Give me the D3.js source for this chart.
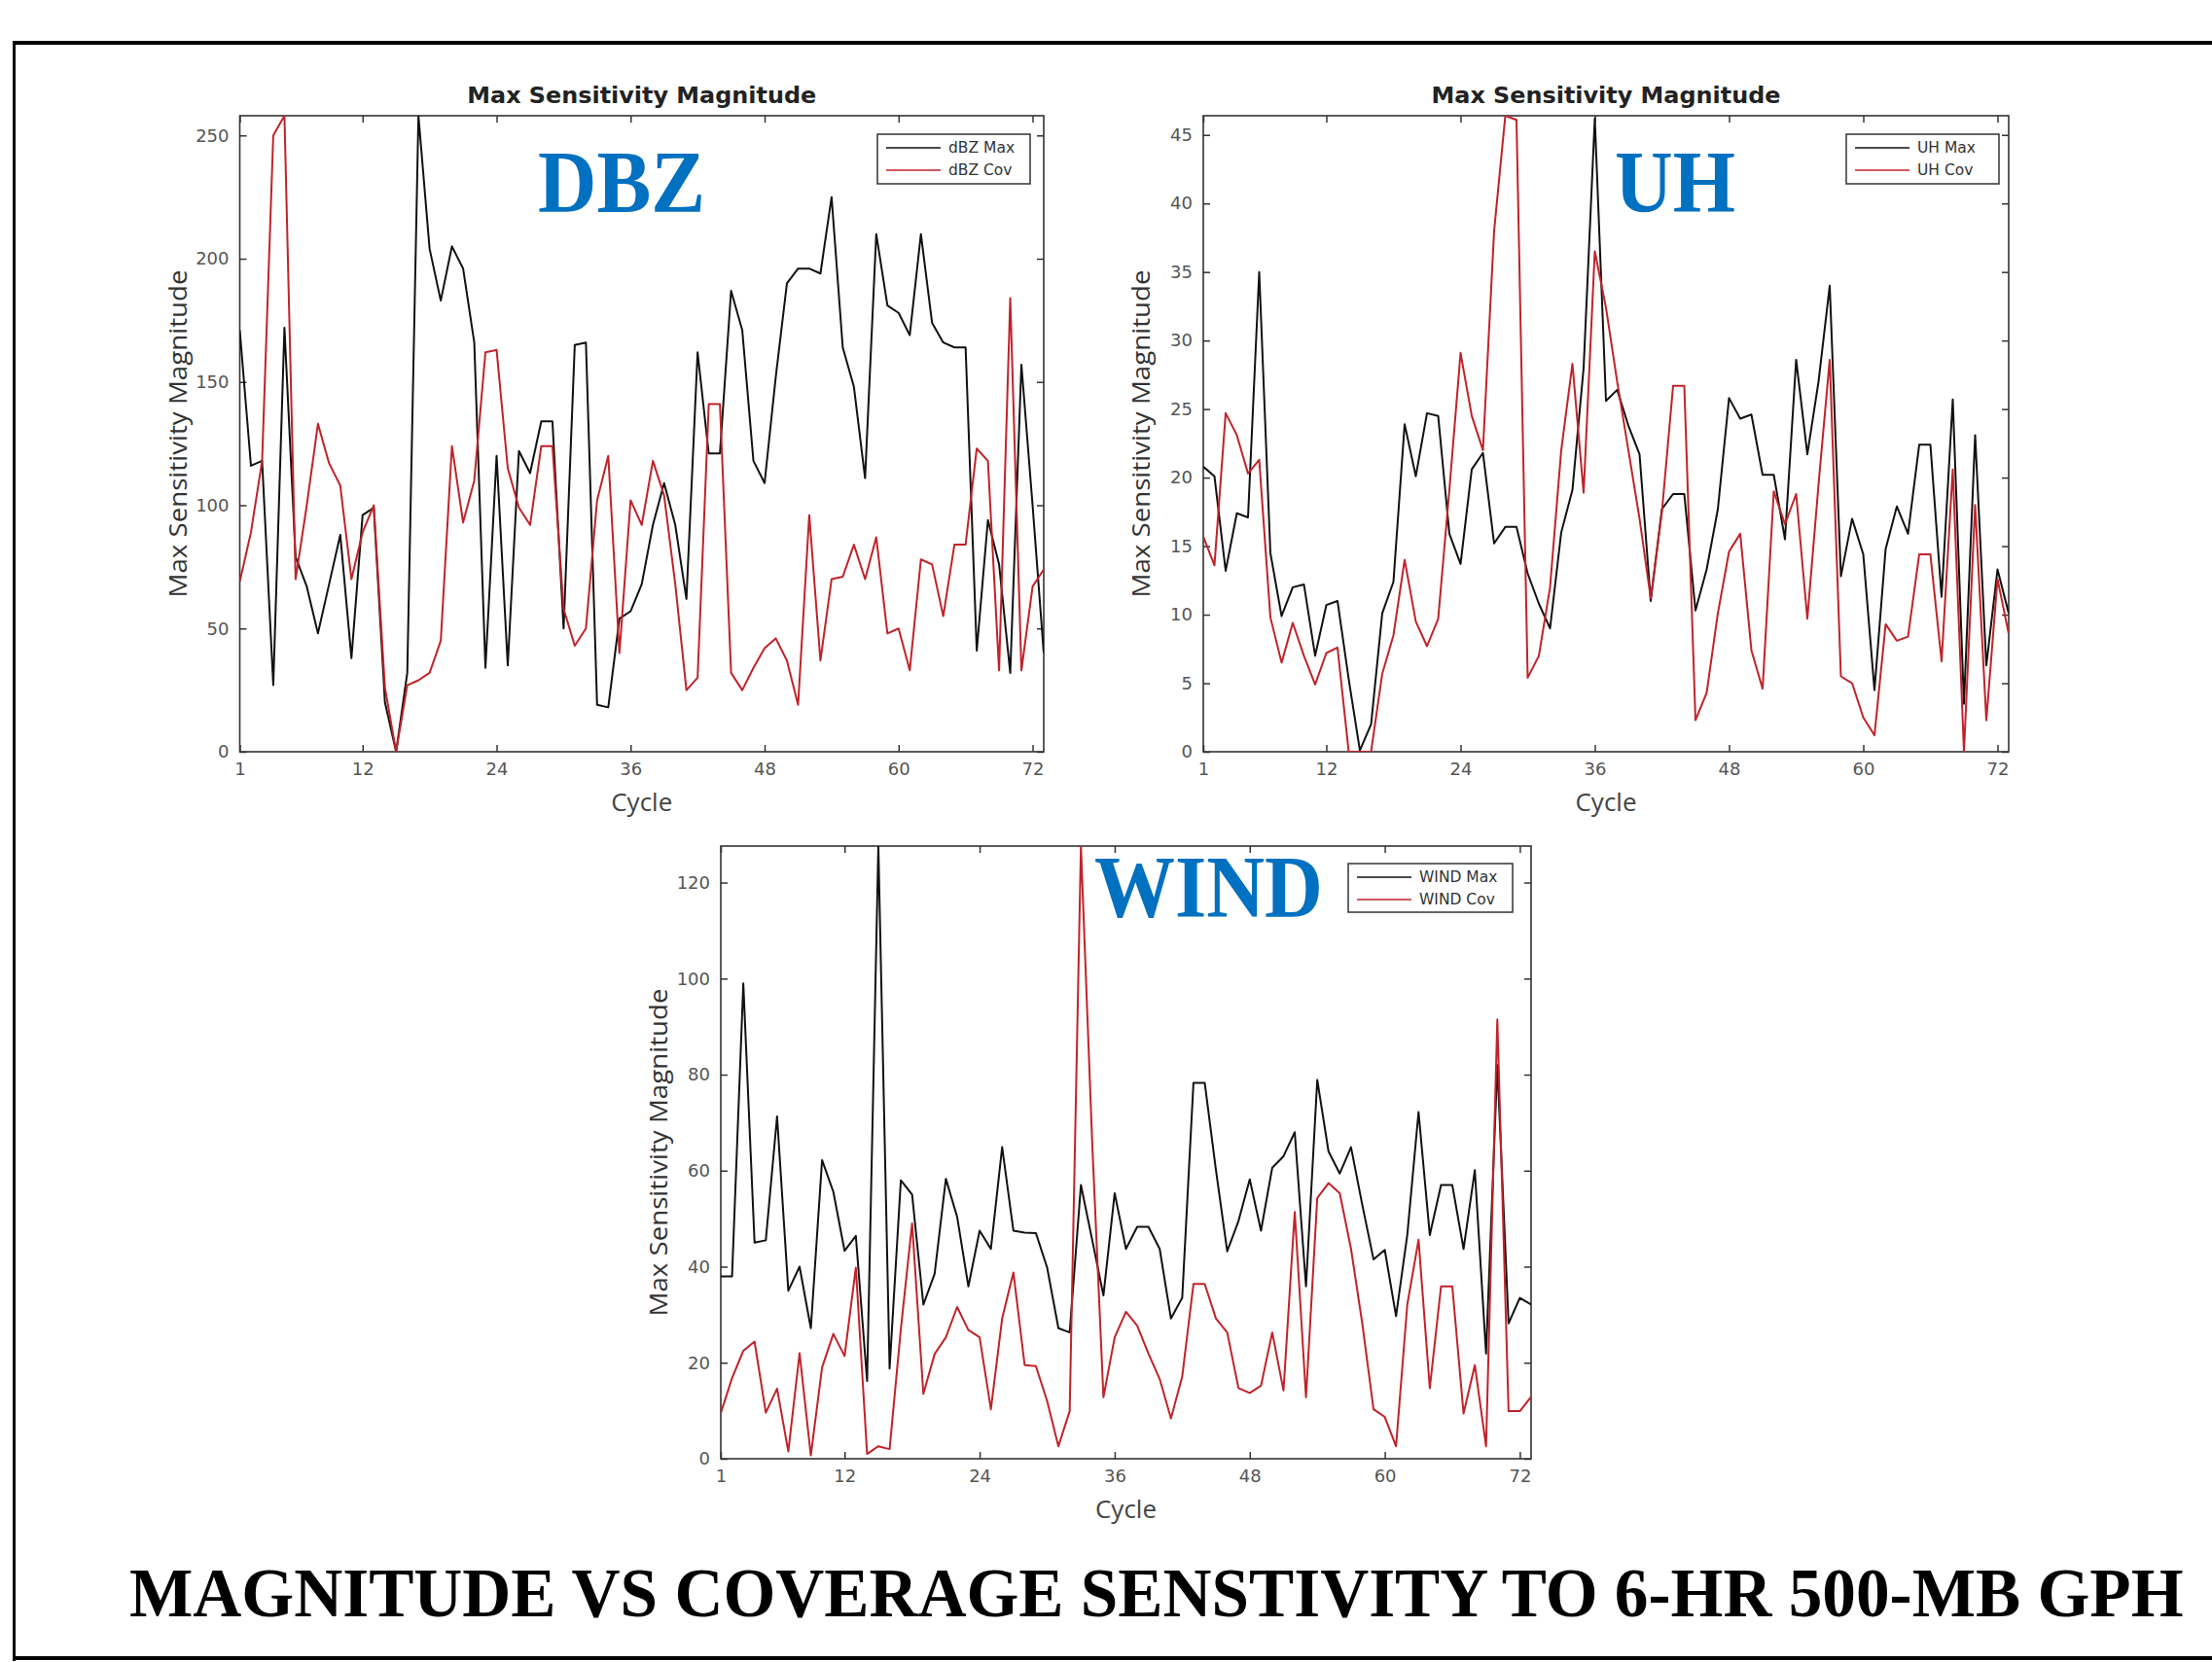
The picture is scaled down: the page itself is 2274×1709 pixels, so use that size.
<!DOCTYPE html>
<html>
<head>
<meta charset="utf-8">
<script src="https://cdn.jsdelivr.net/npm/d3@7/dist/d3.min.js"></script>
<style>
  body { margin: 0; background: #ffffff; }
  svg { display: block; }
</style>
</head>
<body>
<svg id="figure" width="2274" height="1709"></svg>
<script>
// Cycle numbers (x values) and x tick labels
const cycles = d3.range(1, 74);
const xTicks = [1, 12, 24, 36, 48, 60, 72];

// dBZ series
const dbzMax = [171, 116, 118, 27, 172, 79, 67, 48, 68, 88, 38, 96, 99, 20, 0, 32, 258, 204, 183, 205,
  196, 166, 34, 120, 35, 122, 113, 134, 134, 50, 165, 166, 19, 18, 54, 57, 68, 92, 109, 92,
  62, 162, 121, 121, 187, 171, 118, 109, 152, 190, 196, 196, 194, 225, 164, 148, 111, 210, 181, 178,
  169, 210, 174, 166, 164, 164, 41, 94, 76, 32, 157, 100, 40];
const dbzCov = [69, 89, 118, 250, 258, 70, 100, 133, 117, 108, 70, 89, 100, 26, 0, 27, 29, 32, 45, 124,
  93, 110, 162, 163, 115, 99, 92, 124, 124, 58, 43, 50, 102, 120, 40, 102, 92, 118, 104, 68,
  25, 30, 141, 141, 32, 25, 34, 42, 46, 37, 19, 96, 37, 70, 71, 84, 70, 87, 48, 50,
  33, 78, 76, 55, 84, 84, 123, 118, 33, 184, 33, 67, 74];
const dbzTicks = [0, 50, 100, 150, 200, 250];

// UH series
const uhMax = [20.8, 20.1, 13.2, 17.4, 17.1, 35.0, 14.5, 9.9, 12.0, 12.2, 7.0, 10.7, 11.0, 5.3, 0.1, 2.0, 10.1, 12.4, 23.9, 20.1,
  24.7, 24.5, 15.9, 13.7, 20.6, 21.8, 15.2, 16.4, 16.4, 13.0, 10.8, 9.0, 16.0, 19.1, 28.0, 46.2, 25.6, 26.4, 23.8, 21.7,
  11.0, 17.7, 18.8, 18.8, 10.3, 13.3, 17.7, 25.8, 24.3, 24.6, 20.2, 20.2, 15.5, 28.6, 21.7, 27.0, 34.0, 12.8, 17.0, 14.4,
  4.5, 14.8, 17.9, 15.9, 22.4, 22.4, 11.3, 25.7, 3.5, 23.1, 6.3, 13.3, 10.1];
const uhCov = [15.7, 13.6, 24.7, 23.1, 20.3, 21.3, 9.8, 6.5, 9.4, 7.0, 4.9, 7.2, 7.6, 0, 0, 0, 5.7, 8.5, 14.0, 9.5,
  7.7, 9.7, 19.1, 29.1, 24.5, 22.0, 38.0, 46.4, 46.1, 5.4, 7.0, 12.0, 22.0, 28.3, 18.9, 36.5, 32.4, 27.0, 22.0, 17.0,
  11.2, 17.5, 26.7, 26.7, 2.3, 4.3, 10.1, 14.6, 15.9, 7.4, 4.6, 19.0, 16.6, 18.8, 9.7, 19.5, 28.6, 5.5, 5.0, 2.5,
  1.2, 9.3, 8.1, 8.4, 14.4, 14.4, 6.6, 20.6, 0, 18.0, 2.3, 12.6, 8.6];
const uhTicks = [0, 5, 10, 15, 20, 25, 30, 35, 40, 45];

// WIND series
const windMax = [38, 38, 99, 45, 45.5, 71.3, 35, 40, 27.2, 62.2, 55.6, 43.3, 46.4, 16.2, 127.6, 18.8, 58, 55, 32.1, 38.5,
  58.3, 50.4, 35.9, 47.5, 43.7, 64.9, 47.5, 47.1, 47, 39.8, 27.2, 26.3, 57, 45.6, 34.0, 55.3, 43.7, 48.3, 48.3, 43.7,
  29.2, 33.5, 78.3, 78.3, 60.1, 43.2, 49.5, 58.2, 47.5, 60.6, 63.0, 68.0, 35.9, 78.9, 64.0, 59.4, 64.9, 52.9, 41.5, 43.5,
  29.7, 46.6, 72.2, 46.6, 57.0, 57.0, 43.7, 60.1, 21.9, 82, 28.2, 33.5, 32.1];
const windCov = [9.5, 16.8, 22.5, 24.4, 9.6, 14.6, 1.5, 22, 0.7, 19, 26, 21.4, 39.8, 1.0, 2.6, 2.0, 27, 49, 13.5, 21.8,
  25.3, 31.6, 26.8, 25.3, 10.3, 29.2, 38.8, 19.5, 19.3, 12, 2.6, 9.9, 127.6, 66, 12.8, 25.3, 30.6, 27.7, 21.9, 16.6,
  8.4, 17.1, 36.4, 36.4, 29.2, 26.3, 14.7, 13.7, 15.2, 26.3, 14.2, 51.4, 12.8, 54.3, 57.4, 55.3, 43.7, 28.2, 10.3, 8.7,
  2.6, 32.1, 45.6, 14.7, 35.9, 35.9, 9.4, 19.5, 2.6, 91.5, 9.9, 9.9, 12.9];
const windTicks = [0, 20, 40, 60, 80, 100, 120];

// Text
const panelTitle = "Max Sensitivity Magnitude";
const yLabel = "Max Sensitivity Magnitude";
const xLabel = "Cycle";
const figureTitle = "MAGNITUDE VS COVERAGE SENSTIVITY TO 6-HR 500-MB GPH";

const svg = d3.select("#figure");

// Outer frame (open on the right, like the source slide)
svg.append("rect").attr("x", 13).attr("y", 42).attr("width", 2274).attr("height", 4).attr("fill", "#000");
svg.append("rect").attr("x", 13).attr("y", 42).attr("width", 3).attr("height", 1666).attr("fill", "#000");
svg.append("rect").attr("x", 13).attr("y", 1703).attr("width", 2274).attr("height", 4).attr("fill", "#000");

// Panel layouts
const panels = [
  { key: "dbz", left: 246.5, top: 119, width: 826.5, height: 654, yMax: 258, yTicks: dbzTicks,
    maxVals: dbzMax, covVals: dbzCov, names: ["dBZ Max", "dBZ Cov"], showTitle: true,
    tag: "DBZ", tagX: 553, tagY: 218, tagLen: 172,
    legend: { x: 902, y: 138, w: 157, h: 51 } },
  { key: "uh", left: 1237, top: 119, width: 828, height: 654, yMax: 46.4, yTicks: uhTicks,
    maxVals: uhMax, covVals: uhCov, names: ["UH Max", "UH Cov"], showTitle: true,
    tag: "UH", tagX: 1660, tagY: 218, tagLen: 124,
    legend: { x: 1898, y: 138, w: 157, h: 51 } },
  { key: "wind", left: 741, top: 870, width: 833, height: 630, yMax: 127.6, yTicks: windTicks,
    maxVals: windMax, covVals: windCov, names: ["WIND Max", "WIND Cov"], showTitle: false,
    tag: "WIND", tagX: 1125, tagY: 943, tagLen: 235,
    legend: { x: 1386, y: 888, w: 169, h: 50 } }
];

panels.forEach(createPanel);

// Figure caption at the bottom, squeezed to the reference width with a scale
const caption = svg.append("text")
    .attr("x", 0)
    .attr("y", 0)
    .attr("font-family", "'Liberation Serif', 'Times New Roman', serif")
    .attr("font-weight", "bold")
    .attr("font-size", 72)
    .attr("fill", "#000")
    .text(figureTitle);
const capLen = caption.node().getComputedTextLength();
caption.attr("transform", "translate(133,1662) scale(" + (2112 / capLen) + ",1)");

function createPanel(p) {
    const g = svg.append("g").attr("transform", "translate(" + p.left + "," + p.top + ")");

    const x = d3.scaleLinear().domain([1, 73]).range([0, p.width]);
    const y = d3.scaleLinear().domain([0, p.yMax]).range([p.height, 0]);

    const tickFont = "'DejaVu Sans', Verdana, sans-serif";

    // Axes with inward ticks on all four sides
    const axes = [
        { ax: d3.axisBottom(x).tickValues(xTicks).tickPadding(11), t: "translate(0," + p.height + ")" },
        { ax: d3.axisTop(x).tickValues(xTicks).tickFormat(""), t: "translate(0,0)" },
        { ax: d3.axisLeft(y).tickValues(p.yTicks).tickPadding(11), t: "translate(0,0)" },
        { ax: d3.axisRight(y).tickValues(p.yTicks).tickFormat(""), t: "translate(" + p.width + ",0)" }
    ];
    axes.forEach(a => {
        const ag = g.append("g")
            .attr("transform", a.t)
            .call(a.ax.tickSizeInner(-7).tickSizeOuter(0));
        ag.select(".domain").remove();
        ag.selectAll(".tick line").attr("stroke", "#333").attr("stroke-width", 1.5);
        ag.selectAll(".tick text")
            .attr("font-family", tickFont)
            .attr("font-size", 18)
            .attr("fill", "#555");
    });

    // Plot box
    g.append("rect")
        .attr("width", p.width)
        .attr("height", p.height)
        .attr("fill", "none")
        .attr("stroke", "#333")
        .attr("stroke-width", 1.6);

    // Lines, clipped to the axes box
    g.append("clipPath").attr("id", "clip-" + p.key)
        .append("rect").attr("width", p.width).attr("height", p.height);

    const line = d3.line()
        .x((d, i) => x(cycles[i]))
        .y(d => y(d));

    g.append("path")
        .datum(p.maxVals)
        .attr("clip-path", "url(#clip-" + p.key + ")")
        .attr("fill", "none")
        .attr("stroke", "#111")
        .attr("stroke-width", 2)
        .attr("stroke-linejoin", "round")
        .attr("d", line);

    g.append("path")
        .datum(p.covVals)
        .attr("clip-path", "url(#clip-" + p.key + ")")
        .attr("fill", "none")
        .attr("stroke", "#c0232a")
        .attr("stroke-width", 2)
        .attr("stroke-linejoin", "round")
        .attr("d", line);

    // Title
    if (p.showTitle) {
        g.append("text")
            .attr("x", p.width / 2)
            .attr("y", -13)
            .attr("text-anchor", "middle")
            .attr("font-family", tickFont)
            .attr("font-weight", "bold")
            .attr("font-size", 23)
            .attr("textLength", 359)
            .attr("lengthAdjust", "spacingAndGlyphs")
            .attr("fill", "#222")
            .text(panelTitle);
    }

    // Axis labels
    g.append("text")
        .attr("x", p.width / 2)
        .attr("y", p.height + 61)
        .attr("text-anchor", "middle")
        .attr("font-family", "'Open Sans', sans-serif")
        .attr("font-size", 26)
        .attr("fill", "#444")
        .text(xLabel);

    g.append("text")
        .attr("transform", "rotate(-90)")
        .attr("x", -p.height / 2)
        .attr("y", -55)
        .attr("text-anchor", "middle")
        .attr("font-family", "'Open Sans', sans-serif")
        .attr("font-size", 26)
        .attr("textLength", 337)
        .attr("lengthAdjust", "spacingAndGlyphs")
        .attr("fill", "#333")
        .text(yLabel);

    // Legend
    const lg = svg.append("g").attr("transform", "translate(" + p.legend.x + "," + p.legend.y + ")");
    lg.append("rect")
        .attr("width", p.legend.w)
        .attr("height", p.legend.h)
        .attr("fill", "#fff")
        .attr("stroke", "#333")
        .attr("stroke-width", 1.5);
    [["#111", p.names[0]], ["#c0232a", p.names[1]]].forEach((item, i) => {
        const ly = 14 + i * 23;
        lg.append("line")
            .attr("x1", 9).attr("x2", 65)
            .attr("y1", ly).attr("y2", ly)
            .attr("stroke", item[0])
            .attr("stroke-width", 1.6);
        lg.append("text")
            .attr("x", 73)
            .attr("y", ly + 5)
            .attr("font-family", tickFont)
            .attr("font-size", 15.5)
            .attr("fill", "#333")
            .text(item[1]);
    });

    // Big blue tag
    svg.append("text")
        .attr("x", p.tagX)
        .attr("y", p.tagY)
        .attr("textLength", p.tagLen)
        .attr("lengthAdjust", "spacingAndGlyphs")
        .attr("font-family", "'Liberation Serif', 'Times New Roman', serif")
        .attr("font-weight", "bold")
        .attr("font-size", 90)
        .attr("fill", "#0070c0")
        .text(p.tag);
}
</script>
</body>
</html>
